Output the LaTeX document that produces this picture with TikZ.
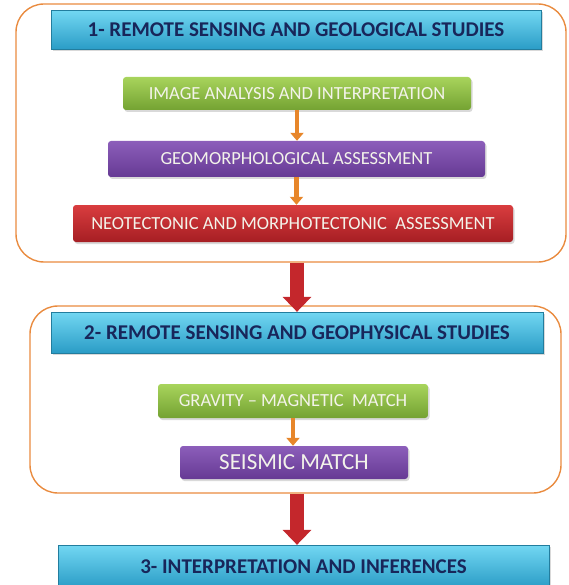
\documentclass[tikz,border=0pt]{standalone}
\usepackage{fontspec}
\setmainfont{Carlito}
\usepackage{tikz}
\usetikzlibrary{arrows.meta, positioning, shadows}

\definecolor{cianA}{HTML}{72D7F2}
\definecolor{cianB}{HTML}{2A9CC6}
\definecolor{cianT}{HTML}{18265A}
\definecolor{verdeA}{HTML}{A8D45C}
\definecolor{verdeB}{HTML}{74A232}
\definecolor{moradoA}{HTML}{8C5EBA}
\definecolor{moradoB}{HTML}{663A94}
\definecolor{rojoA}{HTML}{D93D3F}
\definecolor{rojoB}{HTML}{A61E23}
\definecolor{naranja}{HTML}{E98B3F}
\definecolor{flechaN}{HTML}{E7862A}
\definecolor{flechaR}{HTML}{C4272C}
\definecolor{textoC}{HTML}{F3F3EA}

\begin{document}
\begin{tikzpicture}[
        x=1pt, y=-1pt,
        marco/.style={draw=naranja, line width=1.4pt, rounded corners=28pt, inner sep=0pt},
        titulo/.style={draw=cianB!80!black, line width=0.3pt, top color=cianA, bottom color=cianB,
            inner sep=0pt, minimum height=39pt, text=cianT,
            font=\fontsize{21}{24}\selectfont\bfseries,
            drop shadow={shadow xshift=1.5pt, shadow yshift=-2pt, opacity=0.3}},
        etapa/.style={rounded corners=3pt, inner sep=0pt, minimum height=34pt, text=textoC,
            font=\fontsize{18.5}{21}\selectfont,
            drop shadow={shadow xshift=1.5pt, shadow yshift=-2pt, opacity=0.3}},
        verde/.style={etapa, top color=verdeA, bottom color=verdeB},
        morado/.style={etapa, top color=moradoA, bottom color=moradoB},
        rojo/.style={etapa, top color=rojoA, bottom color=rojoB},
        flechita/.style={-{Triangle[length=8pt, width=13pt]}, line width=4.5pt, draw=flechaN},
        flechota/.style={-{Triangle[length=15pt, width=28pt]}, line width=14pt, draw=flechaR}
    ]
        \useasboundingbox (0,0) rectangle (568,585);
        % bloque 1
        \node[marco, minimum width=550pt, minimum height=258pt] (m1) at (291,133) {};
        \node[titulo, minimum width=490pt] (t1) at (296,30) {1- REMOTE SENSING AND GEOLOGICAL STUDIES};
        \node[verde, minimum width=348pt, minimum height=33pt] (img) at (297,93.5) {IMAGE ANALYSIS AND INTERPRETATION};
        \node[morado, minimum width=377pt, minimum height=36pt] (geo) at (296.5,159) {GEOMORPHOLOGICAL ASSESSMENT};
        \node[rojo, minimum width=440pt, minimum height=37pt] (neo) at (293,223.5) {NEOTECTONIC AND MORPHOTECTONIC\ \ ASSESSMENT};
        % bloque 2
        \node[marco, minimum width=531pt, minimum height=187pt] (m2) at (295.5,399.5) {};
        \node[titulo, minimum width=492pt, minimum height=41pt] (t2) at (297,332.5) {2- REMOTE SENSING AND GEOPHYSICAL STUDIES};
        \node[verde, minimum width=270pt] (grav) at (293,401) {GRAVITY -- MAGNETIC\ \ MATCH};
        \node[morado, minimum width=228pt, minimum height=33pt, font=\fontsize{23}{26}\selectfont] (seis) at (294,462.5) {SEISMIC MATCH};
        % bloque 3
        \node[titulo, minimum width=491pt, minimum height=43pt] (t3) at (303.5,566.5) {3- INTERPRETATION AND INFERENCES};
        % flechas
        \draw[flechita] (img.south) -- (img.south |- geo.north);
        \draw[flechita] (geo.south) -- (geo.south |- neo.north);
        \draw[flechita] (grav.south) -- (grav.south |- seis.north);
        \draw[flechota] (t2.north |- m1.south) -- (t2.north);
        \draw[flechota] (t2.north |- m2.south) -- (t2.north |- t3.north);
    \end{tikzpicture}
\end{document}
